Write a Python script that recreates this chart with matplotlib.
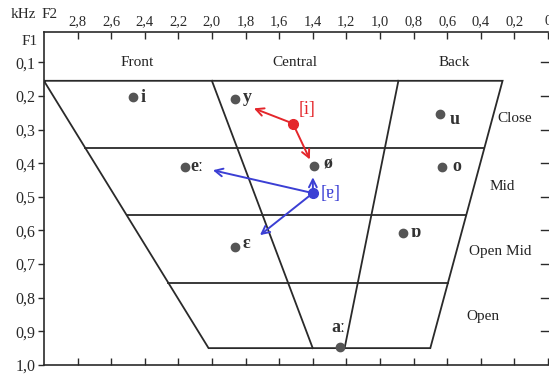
import matplotlib
matplotlib.use("Agg")
import matplotlib.pyplot as plt
import numpy as np

plt.rcParams['font.family'] = ['Liberation Serif', 'DejaVu Serif']

# ---- data ----
vowels = ['i', 'y', 'u', 'ø', 'o', 'eː', 'ɛ', 'ɒ', 'aː']
vowel_f2 = [2.47, 1.86, 0.64, 1.39, 0.63, 2.16, 1.86, 0.86, 1.24]
vowel_f1 = [0.204, 0.21, 0.255, 0.409, 0.412, 0.412, 0.65, 0.608, 0.946]

red_label = '[i]'
red_f2, red_f1 = 1.518, 0.282
red_targets_f2 = [1.75, 1.417]
red_targets_f1 = [0.237, 0.389]

blue_label = '[ɐ]'
blue_f2, blue_f1 = 1.399, 0.489
blue_targets_f2 = [1.399, 1.994, 1.714]
blue_targets_f1 = [0.442, 0.421, 0.614]

# trapezoid geometry
outline_f2 = [3.0, 0.27, 0.70, 2.02, 3.0]
outline_f1 = [0.155, 0.155, 0.95, 0.95, 0.155]
central_left_f2 = [2.0, 1.40]
central_right_f2 = [0.89, 1.21]
diag_f1 = [0.155, 0.95]
level_f1 = [0.355, 0.555, 0.755]

col_labels = ['Front', 'Central', 'Back']
col_f2 = [2.446, 1.506, 0.56]
col_f1 = [0.10, 0.10, 0.10]
row_labels = ['Close', 'Mid', 'Open Mid', 'Open']
row_f2 = [0.196, 0.274, 0.286, 0.387]
row_f1 = [0.268, 0.468, 0.662, 0.857]

x_ticks = [2.8, 2.6, 2.4, 2.2, 2.0, 1.8, 1.6, 1.4, 1.2, 1.0, 0.8, 0.6, 0.4, 0.2, 0.0]
x_ticklabels = ['2,8', '2,6', '2,4', '2,2', '2,0', '1,8', '1,6', '1,4', '1,2',
                '1,0', '0,8', '0,6', '0,4', '0,2', '0']
y_ticks = [0.1, 0.2, 0.3, 0.4, 0.5, 0.6, 0.7, 0.8, 0.9, 1.0]
y_ticklabels = ['0,1', '0,2', '0,3', '0,4', '0,5', '0,6', '0,7', '0,8', '0,9', '1,0']

# ---- figure ----
fig = plt.figure(figsize=(5.49, 3.77), dpi=100)
ax = fig.add_axes([0.080, 0.032, 0.918, 0.883])
ax.set_xlim(3.0, 0.0)
ax.set_ylim(1.0, 0.01)

lc = '#2a2a2a'
lw = 1.3
ax.plot(outline_f2, outline_f1, color=lc, lw=lw, solid_joinstyle='miter')
ax.plot(central_left_f2, diag_f1, color=lc, lw=lw)
ax.plot(central_right_f2, diag_f1, color=lc, lw=lw)
# horizontal levels between the left and right diagonals
left_diag_f2 = [outline_f2[0], outline_f2[3]]
right_diag_f2 = [outline_f2[1], outline_f2[2]]
for lv in level_f1:
    xl = np.interp(lv, diag_f1, left_diag_f2)
    xr = np.interp(lv, diag_f1, right_diag_f2)
    ax.plot([xl, xr], [lv, lv], color=lc, lw=lw)

# vowel dots
ax.plot(vowel_f2, vowel_f1, 'o', color='#555555', ms=6, ls='none', zorder=5)
offsets = {
    'i': (8, 0, 'left', 'center'),
    'y': (7, 2, 'left', 'center'),
    'u': (9, -5, 'left', 'center'),
    'ø': (9, 2, 'left', 'center'),
    'o': (10, 1, 'left', 'center'),
    'eː': (5, 1, 'left', 'center'),
    'ɛ': (7, 4, 'left', 'center'),
    'ɒ': (7, 1, 'left', 'center'),
    'aː': (-1, 19, 'center', 'center'),
}
for v, fx, fy in zip(vowels, vowel_f2, vowel_f1):
    dx, dy, ha, va = offsets[v]
    ax.annotate(v, (fx, fy), xytext=(dx, dy), textcoords='offset pixels',
                ha=ha, va=va, fontsize=13, fontweight='bold', color='#333333',
                zorder=6)

# red arrows
red = '#e4262b'
for tx, ty in zip(red_targets_f2, red_targets_f1):
    ax.annotate('', xy=(tx, ty), xytext=(red_f2, red_f1),
                arrowprops=dict(arrowstyle='->', color=red, lw=1.4,
                                mutation_scale=14, shrinkA=0, shrinkB=0),
                zorder=7)
ax.plot([red_f2], [red_f1], 'o', color=red, ms=7, zorder=8)
ax.annotate(red_label, (red_f2, red_f1), xytext=(14, 14), textcoords='offset pixels',
            ha='center', va='center', fontsize=13, color=red)

# blue arrows
blue = '#3b3fd4'
for tx, ty in zip(blue_targets_f2, blue_targets_f1):
    ax.annotate('', xy=(tx, ty), xytext=(blue_f2, blue_f1),
                arrowprops=dict(arrowstyle='->', color=blue, lw=1.4,
                                mutation_scale=14, shrinkA=0, shrinkB=0),
                zorder=7)
ax.plot([blue_f2], [blue_f1], 'o', color=blue, ms=7, zorder=8)
ax.annotate(blue_label, (blue_f2, blue_f1), xytext=(8, 0), textcoords='offset pixels',
            ha='left', va='center', fontsize=13, color=blue)

# column / row labels
for t, fx, fy in zip(col_labels, col_f2, col_f1):
    ax.text(fx, fy, t, ha='center', va='center', fontsize=11, color='#222222')
for t, fx, fy in zip(row_labels, row_f2, row_f1):
    ax.text(fx, fy, t, ha='center', va='center', fontsize=11, color='#222222')

# axes styling
ax.spines['right'].set_visible(False)
for s in ['left', 'top', 'bottom']:
    ax.spines[s].set_color(lc)
    ax.spines[s].set_linewidth(1.2)

ax.xaxis.set_ticks_position('both')
ax.xaxis.set_label_position('top')
ax.set_xticks(x_ticks)
ax.set_xticklabels(x_ticklabels)
ax.tick_params(axis='x', which='both', direction='in', length=5, width=1,
               colors=lc, labelbottom=False, labeltop=True, top=True, bottom=True,
               labelsize=10.5, pad=3)

ax.set_yticks(y_ticks)
ax.set_yticklabels(y_ticklabels)
ax.tick_params(axis='y', which='both', direction='out', length=4, width=1,
               colors=lc, labelsize=11.5, pad=2, left=True, right=False)
# inward ticks on the right
for yt in y_ticks[:-1]:
    ax.plot([0.0, 0.04], [yt, yt], color=lc, lw=1, clip_on=False)

ax.text(-0.012, 0.038, 'F1', transform=ax.get_yaxis_transform(), ha='right',
        va='center', fontsize=11, color=lc)
fig.text(0.042, 0.962, 'kHz', ha='center', va='center', fontsize=11, color=lc)
fig.text(0.090, 0.962, 'F2', ha='center', va='center', fontsize=11, color=lc)

fig.savefig('out.png', dpi=100, facecolor='white')
